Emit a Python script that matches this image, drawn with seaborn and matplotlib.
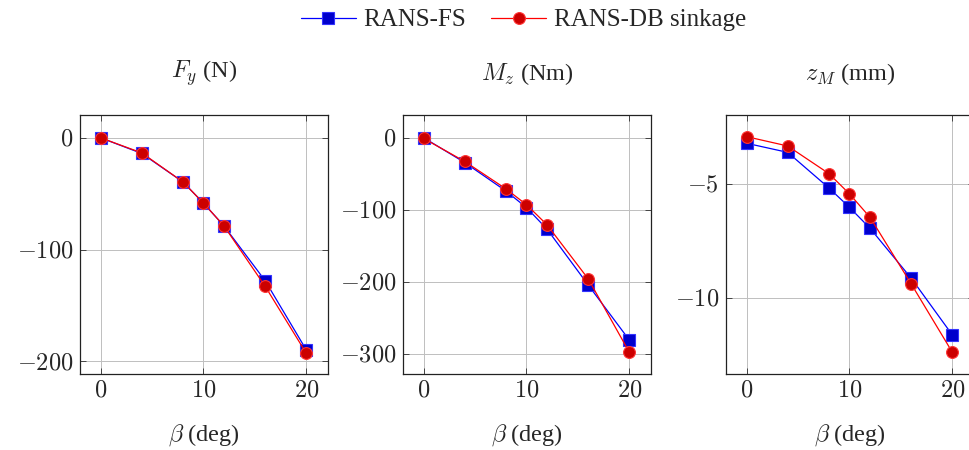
import numpy as np
import pandas as pd
import matplotlib
matplotlib.use('Agg')
import matplotlib.pyplot as plt
from matplotlib.ticker import FuncFormatter
import seaborn as sns

# data
beta = [0, 4, 8, 10, 12, 16, 20]
fy_fs = [0, -14, -39.5, -58.5, -79, -128, -190]
fy_db = [0, -13.5, -39.5, -58.5, -79, -133, -193]
mz_fs = [0, -34.5, -74, -97, -127, -204.5, -281]
mz_db = [-1, -33, -71, -93, -121, -196, -298]
zm_fs = [-3.23, -3.63, -5.19, -6.04, -6.96, -9.15, -11.64]
zm_db = [-2.94, -3.35, -4.56, -5.45, -6.48, -9.40, -12.40]

titles = [r'$F_y$ (N)', r'$M_z$ (Nm)', r'$z_M$ (mm)']
series_names = ['RANS-FS', 'RANS-DB sinkage']
yticks = [[-200, -100, 0], [-300, -200, -100, 0], [-10, -5]]
ylims = [(-211.4, 20.4), (-328, 31.5), (-13.35, -1.99)]

sns.set_style('ticks')
plt.rcParams['font.family'] = ['Liberation Serif', 'DejaVu Serif']
plt.rcParams['mathtext.fontset'] = 'cm'

fig = plt.figure(figsize=(9.69, 4.5), dpi=100)
w, h, bottom = 248 / 969, 259 / 450, 1 - 374 / 450
lefts = [80 / 969, 403 / 969, 726 / 969]
axes = [fig.add_axes([l, bottom, w, h]) for l in lefts]

data = [(fy_fs, fy_db), (mz_fs, mz_db), (zm_fs, zm_db)]
styles = [
    dict(color='#0000FF', marker='s', markerfacecolor='#0000CC', markeredgecolor='#3333FF', markersize=8.5),
    dict(color='#FF0000', marker='o', markerfacecolor='#CC0000', markeredgecolor='#FF3333', markersize=8.5),
]

tick_fmt = FuncFormatter(lambda v, p: r'$%g$' % v)

for i, ax in enumerate(axes):
    for vals, name, st in zip(data[i], series_names, styles):
        sns.lineplot(x=beta, y=vals, ax=ax, label=name, linewidth=0.9,
                     markeredgewidth=0.8, **st)
    if ax.get_legend() is not None:
        ax.get_legend().remove()
    ax.set_xlim(-2.0, 22.1)
    ax.set_ylim(*ylims[i])
    ax.set_xticks([0, 10, 20])
    ax.set_yticks(yticks[i])
    ax.xaxis.set_major_formatter(tick_fmt)
    ax.yaxis.set_major_formatter(tick_fmt)
    ax.grid(True, color='#bfbfbf', linewidth=0.7)
    ax.set_axisbelow(True)
    for s in ax.spines.values():
        s.set_visible(True)
        s.set_color('#222222')
        s.set_linewidth(0.9)
    ax.tick_params(direction='in', length=4, width=0.7, color='#444444',
                   top=True, right=True, labelsize=17.5, pad=5)
    ax.text(0.5, 1.16, titles[i], transform=ax.transAxes, ha='center', va='center',
            fontsize=17.5)
    ax.text(0.5, -0.235, r'$\beta$ (deg)', transform=ax.transAxes, ha='center', va='center',
            fontsize=17.5)

handles, labels = axes[0].get_legend_handles_labels()
fig.legend(handles, labels, loc='center', bbox_to_anchor=(0.54, 1 - 20 / 450), ncol=2,
           frameon=False, fontsize=18, handlelength=2.2, handletextpad=0.3,
           columnspacing=1.0)

fig.savefig('out.png', dpi=100)
